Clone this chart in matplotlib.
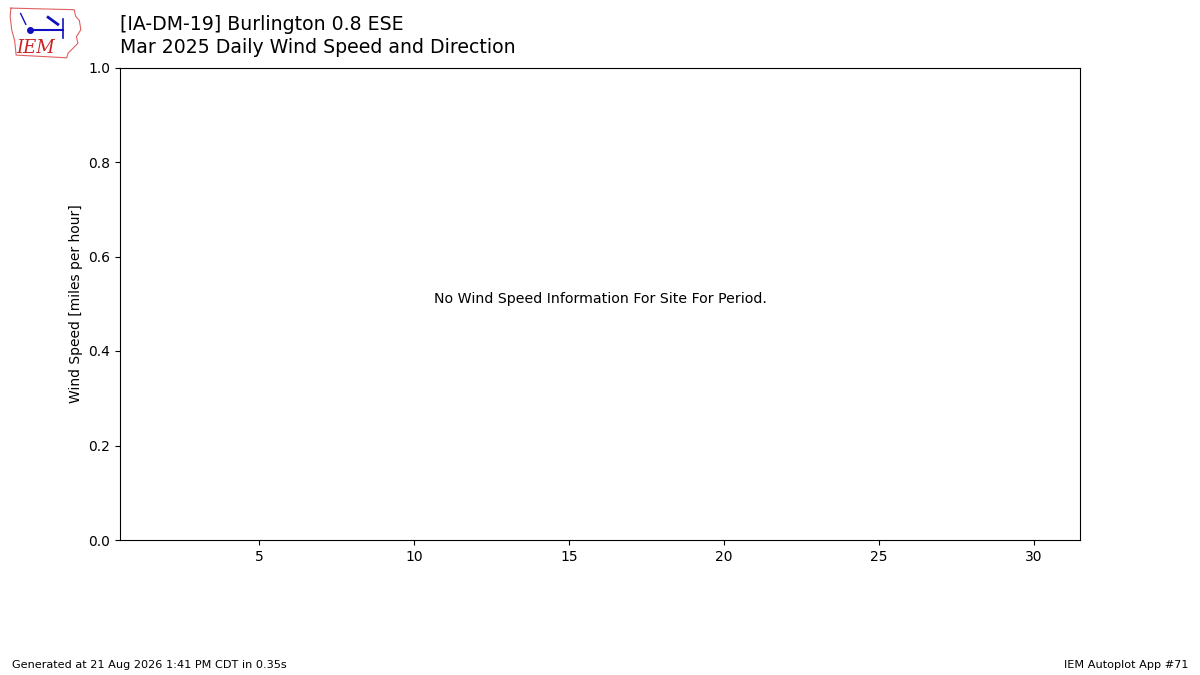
import numpy as np
import matplotlib
matplotlib.use("Agg")
import matplotlib.pyplot as plt

# Site / period labels
station = "[IA-DM-19] Burlington 0.8 ESE"
subtitle = "Mar 2025 Daily Wind Speed and Direction"
message = "No Wind Speed Information For Site For Period."
footer_left = "Generated at 21 Aug 2026 1:41 PM CDT in 0.35s"
footer_right = "IEM Autoplot App #71"

# No observations for the month
days = []
speeds = []
x_ticks = [5, 10, 15, 20, 25, 30]

# Rough Iowa outline for the logo (logo axes coords)
iowa_x = [0.05, 0.9, 0.92, 0.97, 0.99, 0.93, 0.95, 0.88, 0.82, 0.80, 0.12, 0.10, 0.06, 0.04, 0.05]
iowa_y = [0.95, 0.92, 0.80, 0.72, 0.55, 0.42, 0.30, 0.20, 0.12, 0.03, 0.08, 0.35, 0.55, 0.80, 0.95]

fig = plt.figure(figsize=(12, 6.75), dpi=100)

# logo
lax = fig.add_axes([0.006, 0.912, 0.062, 0.08])
lax.plot(iowa_x, iowa_y, color="#e06060", lw=0.8)
lax.text(0.38, 0.22, "IEM", color="#cc2222", fontsize=13, family="DejaVu Serif",
         style="italic", ha="center", va="center")
lax.plot([0.3, 0.75], [0.55, 0.55], color="#1010c0", lw=1.5)
lax.plot([0.3], [0.55], "o", color="#1010c0", ms=4)
lax.plot([0.75, 0.75], [0.4, 0.75], color="#1010c0", lw=1.2)
lax.plot([0.55, 0.68], [0.78, 0.65], color="#1010c0", lw=2)
lax.plot([0.18, 0.25], [0.85, 0.65], color="#1010c0", lw=1)
lax.set_xlim(0, 1)
lax.set_ylim(0, 1)
lax.axis("off")

ax = fig.add_axes([0.1, 0.2, 0.8, 0.7])
ax.bar(days, speeds)
ax.set_xlim(0.5, 31.5)
ax.set_ylim(0, 1)
ax.set_xticks(x_ticks)
ax.set_ylabel("Wind Speed [miles per hour]")
ax.text(0.5, 0.51, message, transform=ax.transAxes, ha="center", va="center", fontsize=10.2)

fig.text(0.1, 0.964, station, fontsize=13.6, va="center")
fig.text(0.1, 0.929, subtitle, fontsize=13.6, va="center")
fig.text(0.01, 0.008, footer_left, fontsize=8.1, va="bottom")
fig.text(0.99, 0.008, footer_right, fontsize=8.1, va="bottom", ha="right")

fig.savefig("out.png", dpi=100)
